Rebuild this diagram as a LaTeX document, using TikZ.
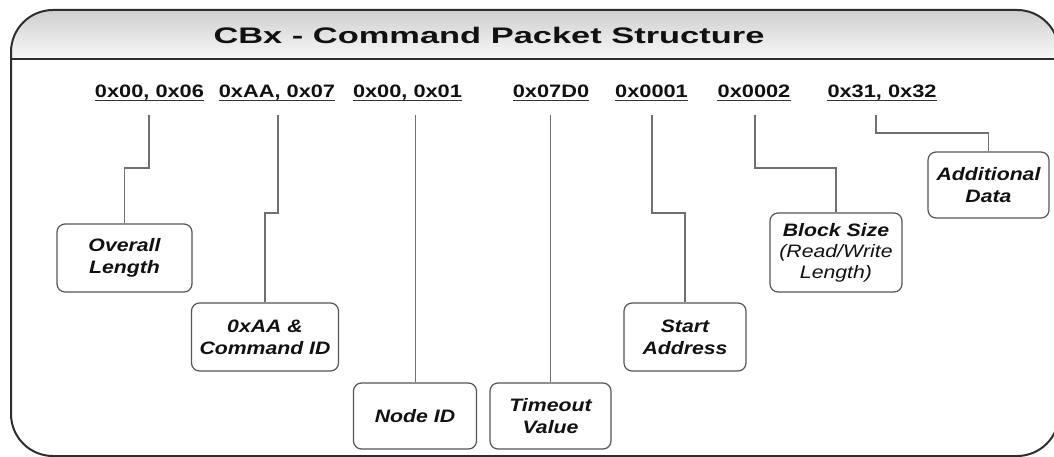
\documentclass[tikz,border=0pt]{standalone}
\usepackage{fontspec}
\setmainfont{Liberation Sans}
\newfontfamily\ttlfont[FakeStretch=1.53]{Liberation Sans}
\newfontfamily\lblfont[FakeStretch=1.21]{Liberation Sans}
\newfontfamily\bxfont[FakeStretch=1.18]{Liberation Sans}
\definecolor{framec}{HTML}{2E2E2E}
\definecolor{connc}{HTML}{707070}
\definecolor{boxc}{HTML}{555555}
\definecolor{txtc}{HTML}{111111}
\begin{document}
\begin{tikzpicture}[x=1pt,y=-1pt,
  frameline/.style={draw=framec,line width=2pt},
  hexlbl/.style={inner sep=0pt,text depth=0pt,anchor=base,font=\lblfont\bfseries\fontsize{18}{22}\selectfont,text=txtc},
  uline/.style={draw=txtc!85,line width=1.6pt},
  connline/.style={draw=connc,line width=1.3pt},
  fieldbox/.style={draw=boxc,line width=1.2pt,rounded corners=8pt,fill=white,align=center,inner sep=0pt,font=\bxfont\bfseries\itshape\fontsize{18}{22}\selectfont,text=txtc},
]
\useasboundingbox (0,0) rectangle (1054,457);
\fill[white] (0,0) rectangle (1054,457);

% header band
\begin{scope}
  \clip[rounded corners=42pt] (11,10) rectangle (1059,456);
  \shade[top color=gray!38,bottom color=gray!5] (11,10) rectangle (1059,59);
\end{scope}
\draw[frameline,rounded corners=42pt] (11,10) rectangle (1059,456);
\draw[frameline] (11,59) -- (1059,59);

\node[font=\ttlfont\bfseries\fontsize{22.5}{27}\selectfont,text=txtc,inner sep=0pt] (title) at (489,35.3) {CBx - Command Packet Structure};

% hex labels
\node[hexlbl] (h1) at (149.5,97.5) {0x00, 0x06};
\node[hexlbl] (h2) at (277,97.5) {0xAA, 0x07};
\node[hexlbl] (h3) at (407.5,97.5) {0x00, 0x01};
\node[hexlbl] (h4) at (551,97.5) {0x07D0};
\node[hexlbl] (h5) at (651.5,97.5) {0x0001};
\node[hexlbl] (h6) at (754,97.5) {0x0002};
\node[hexlbl] (h7) at (882,97.5) {0x31, 0x32};
\foreach \h in {h1,h2,h3,h4,h5,h6,h7}
  \draw[uline] ([yshift=-3pt]\h.south west) -- ([yshift=-3pt]\h.south east);

% field boxes
\node[fieldbox,minimum width=135pt,minimum height=68pt] (ol) at (124.5,258) {Overall\\Length};
\node[fieldbox,minimum width=147pt,minimum height=68pt] (aa) at (265,337) {0xAA \&\\Command ID};
\node[fieldbox,minimum width=123pt,minimum height=66pt] (nid) at (415,416) {Node ID};
\node[fieldbox,minimum width=121pt,minimum height=66pt] (to) at (550.5,416) {Timeout\\Value};
\node[fieldbox,minimum width=122pt,minimum height=68pt] (sa) at (685,337) {Start\\Address};
\node[fieldbox,minimum width=132pt,minimum height=79pt,font=\bxfont\itshape\fontsize{18}{21}\selectfont] (bs) at (836,252.5) {\bfseries Block Size\\(Read/Write\\Length)};
\node[fieldbox,minimum width=121pt,minimum height=66pt] (ad) at (988.5,185) {Additional\\Data};

% connector start points
\coordinate (s1) at (149,115);
\coordinate (s2) at (278,115);
\coordinate (s3) at (415.5,115);
\coordinate (s4) at (550.5,115);
\coordinate (s5) at (652,115);
\coordinate (s6) at (755,115);
\coordinate (s7) at (876,115);

\draw[connline] (s1) -- ++(0,53) -| (ol.north);
\draw[connline] (s2) -- ++(0,98) -| (aa.north);
\draw[connline] (s3) -- (s3 |- nid.north);
\draw[connline] (s4) -- (to.north);
\draw[connline] (s5) -- ++(0,98) -| (sa.north);
\draw[connline] (s6) -- ++(0,53) -| (bs.north);
\draw[connline] (s7) -- ++(0,18) -| (ad.north);
\end{tikzpicture}
\end{document}
